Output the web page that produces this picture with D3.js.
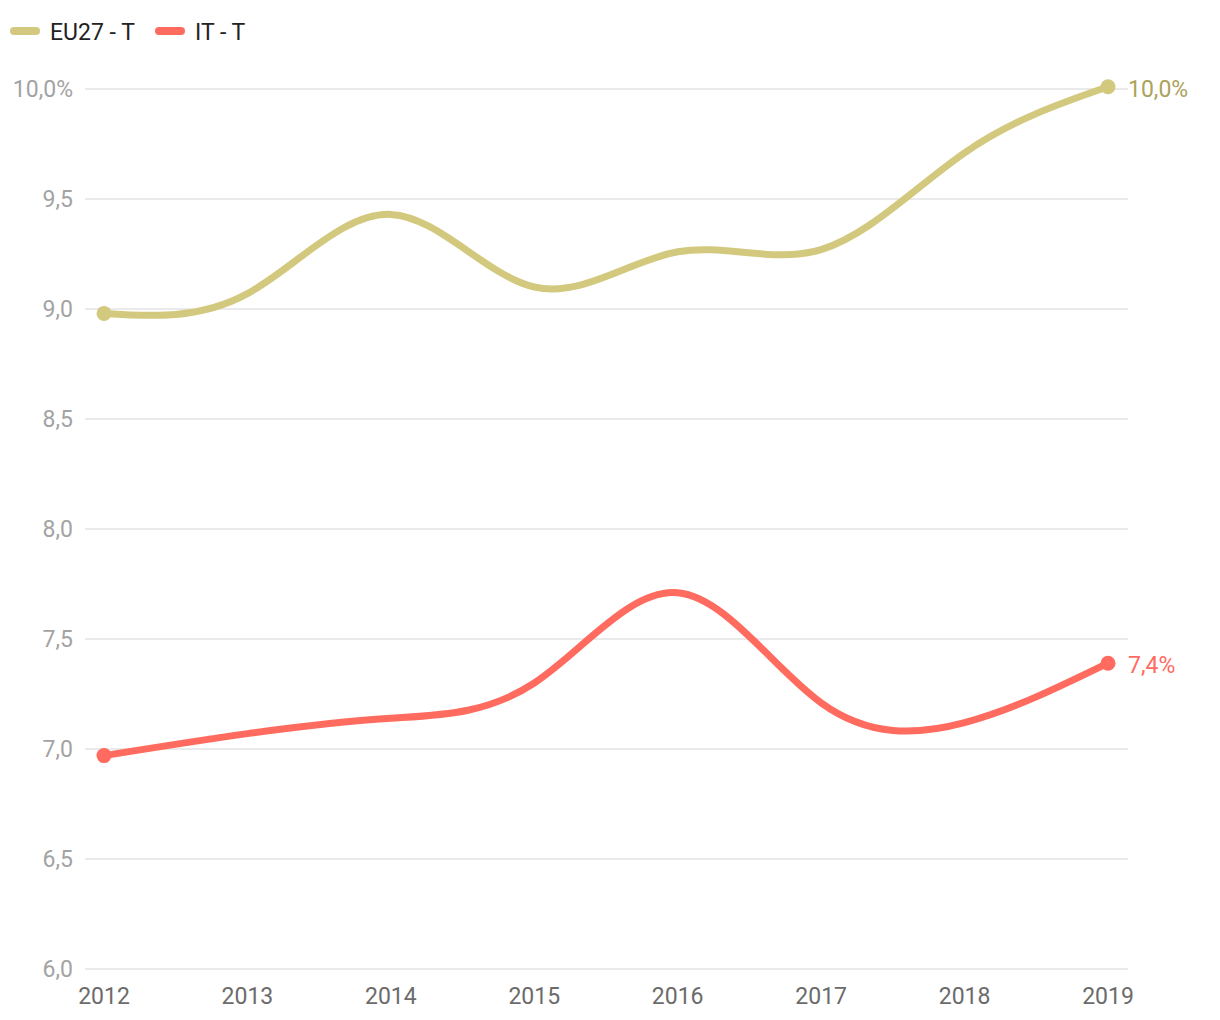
<!DOCTYPE html>
<html>
<head>
<meta charset="utf-8">
<script src="https://cdn.jsdelivr.net/npm/d3@7"></script>
<style>
  body { margin: 0; background: #fff; font-family: Roboto, "Noto Sans", sans-serif; }
</style>
</head>
<body>
<div id="chart"></div>
<script>
// data
let years = [2012, 2013, 2014, 2015, 2016, 2017, 2018, 2019];
let euValues = [8.98, 9.07, 9.43, 9.10, 9.26, 9.27, 9.71, 10.01];
let itValues = [6.97, 7.07, 7.14, 7.30, 7.71, 7.21, 7.12, 7.39];
let seriesNames = ["EU27 - T", "IT - T"];
let yTicks = [6.0, 6.5, 7.0, 7.5, 8.0, 8.5, 9.0, 9.5, 10.0];

let colors = ["#d3c97e", "#ff6b5f"];
let labelColors = ["#aca25a", "#ff6b5f"];

let W = 1220, H = 1020;
let margin = {top: 89, right: 92, bottom: 51, left: 85};

let svg = d3.select("#chart").append("svg")
    .attr("width", W)
    .attr("height", H);

let xScale = d3.scalePoint()
    .domain(years)
    .range([104, 1108]);

let yScale = d3.scaleLinear()
    .domain([6, 10])
    .range([H - margin.bottom, margin.top]);

// gridlines
svg.append("g")
    .selectAll("line")
    .data(yTicks)
    .enter().append("line")
    .attr("x1", margin.left)
    .attr("x2", W - margin.right)
    .attr("y1", d => yScale(d))
    .attr("y2", d => yScale(d))
    .style("stroke", "#e3e3e3")
    .style("stroke-width", 1.5);

// y tick labels
svg.append("g")
    .selectAll("text")
    .data(yTicks)
    .enter().append("text")
    .attr("x", 73)
    .attr("y", d => yScale(d))
    .attr("dy", "0.35em")
    .attr("text-anchor", "end")
    .style("font-size", "23px")
    .style("fill", "#a3a3a3")
    .text(d => d3.format(".1f")(d).replace(".", ",") + (d === 10 ? "%" : ""));

// x axis labels
svg.append("g")
    .selectAll("text")
    .data(years)
    .enter().append("text")
    .attr("x", d => xScale(d))
    .attr("y", 996)
    .attr("dy", "0.35em")
    .attr("text-anchor", "middle")
    .style("font-size", "23px")
    .style("fill", "#6b6b6b")
    .text(d => d);

let line = d3.line()
    .x((d, i) => xScale(years[i]))
    .y(d => yScale(d))
    .curve(d3.curveNatural);

[euValues, itValues].forEach((vals, k) => {
    svg.append("path")
        .datum(vals)
        .attr("d", line)
        .style("fill", "none")
        .style("stroke", colors[k])
        .style("stroke-width", 7)
        .style("stroke-linecap", "round");

    let ends = [0, vals.length - 1];
    svg.append("g")
        .selectAll("circle")
        .data(ends)
        .enter().append("circle")
        .attr("cx", i => xScale(years[i]))
        .attr("cy", i => yScale(vals[i]))
        .attr("r", 7.5)
        .style("fill", colors[k]);

    let last = vals[vals.length - 1];
    svg.append("text")
        .attr("x", xScale(years[years.length - 1]) + 20)
        .attr("y", yScale(last) + 2)
        .attr("dy", "0.35em")
        .style("font-size", "23px")
        .style("fill", labelColors[k])
        .text(d3.format(".1f")(last).replace(".", ",") + "%");
});

// legend
let legendX = [14, 159];
let legendTextX = [50, 195];
seriesNames.forEach((name, k) => {
    let g = svg.append("g").attr("transform", "translate(0,31)");
    g.append("line")
        .attr("x1", legendX[k]).attr("x2", legendX[k] + 22)
        .attr("y1", 0).attr("y2", 0)
        .style("stroke", colors[k])
        .style("stroke-width", 8)
        .style("stroke-linecap", "round");
    g.append("text")
        .attr("x", legendTextX[k])
        .attr("y", 1)
        .attr("dy", "0.35em")
        .style("font-size", "23px")
        .style("fill", "#222")
        .text(name);
});
</script>
</body>
</html>
